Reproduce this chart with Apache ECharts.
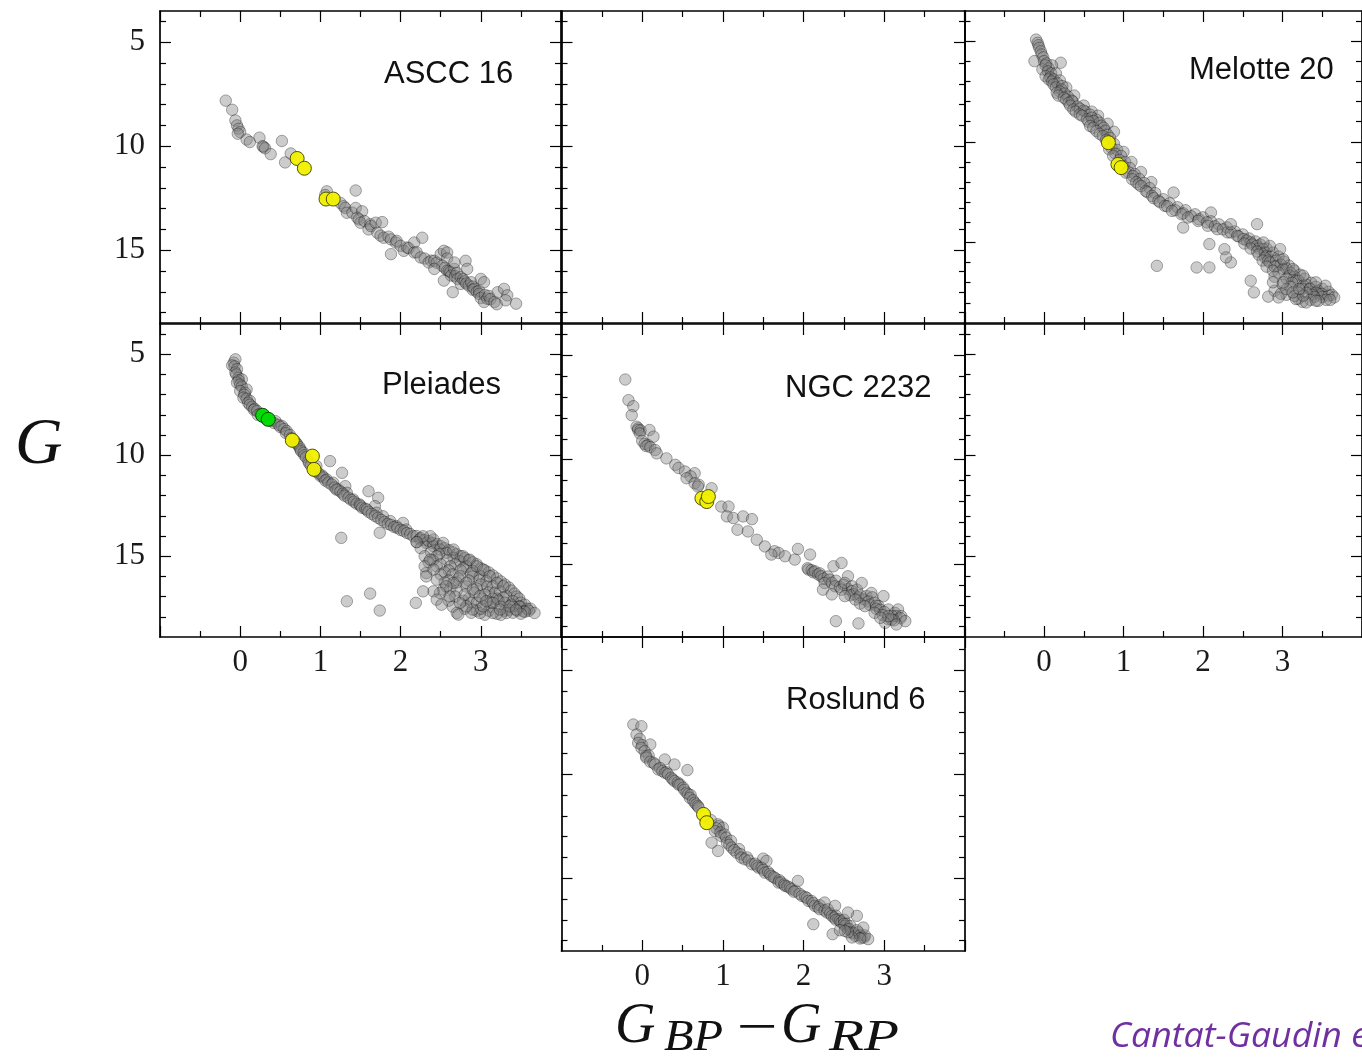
<!DOCTYPE html>
<html><head><meta charset="utf-8">
<script src="https://cdn.jsdelivr.net/npm/echarts@6/dist/echarts.min.js"></script>
<style>html,body{margin:0;padding:0;background:#fff}#c{width:1362px;height:1061px}</style>
</head><body><div id="c"></div>
<script>
// ---------- tick labels ----------
const xTickLabels = [0, 1, 2, 3];
const yTickLabels = [5, 10, 15];
const yMinorTicks = [4, 6, 7, 8, 9, 11, 12, 13, 14, 16, 17, 18];
const clusterNames = ['ASCC 16', 'Melotte 20', 'Pleiades', 'NGC 2232', 'Roslund 6'];

// ---------- ASCC 16 ----------
const ascc16Members = [[-0.18,7.81],[-0.10,8.25],[-0.06,8.76],[-0.04,9.00],[-0.02,9.16],[0.00,9.32],[-0.03,9.40],[0.08,9.68],[0.12,9.80],[0.24,9.59],[0.29,10.03],[0.28,10.00],[0.31,10.10],[0.38,10.38],[0.52,9.75],[0.56,10.78],[0.63,10.35],[1.08,12.17],[1.06,12.35],[1.44,12.13],[1.25,12.73],[1.29,12.89],[1.31,12.97],[1.33,13.20],[1.40,13.20],[1.44,12.97],[1.52,13.13],[1.46,13.44],[1.48,13.52],[1.50,13.68],[1.55,13.60],[1.62,13.75],[1.60,14.00],[1.63,13.84],[1.69,13.68],[1.77,13.65],[1.71,14.16],[1.75,14.30],[1.79,14.40],[1.85,14.35],[1.88,14.48],[1.94,14.63],[1.95,14.55],[1.88,15.19],[2.00,14.79],[2.04,15.03],[2.08,14.87],[2.10,14.90],[2.17,14.63],[2.17,15.11],[2.20,15.10],[2.27,14.40],[2.25,15.35],[2.30,15.40],[2.38,15.50],[2.35,15.59],[2.42,15.51],[2.45,15.60],[2.50,15.19],[2.54,15.03],[2.58,15.11],[2.58,15.40],[2.52,15.75],[2.55,15.85],[2.42,15.90],[2.58,15.98],[2.60,16.00],[2.62,16.05],[2.63,16.22],[2.67,15.90],[2.67,15.59],[2.68,16.25],[2.70,16.10],[2.71,16.38],[2.75,16.30],[2.78,16.40],[2.54,16.46],[2.65,17.02],[2.75,16.62],[2.80,16.50],[2.82,16.60],[2.81,15.51],[2.83,15.90],[2.85,16.70],[2.88,16.54],[2.90,16.75],[2.90,16.90],[2.92,16.86],[2.95,17.00],[2.98,16.95],[3.00,16.38],[3.04,16.54],[2.98,17.10],[3.00,17.30],[3.05,17.15],[3.04,17.49],[3.08,17.33],[3.10,17.20],[3.12,17.35],[3.17,17.49],[3.20,17.60],[3.21,17.02],[3.29,16.86],[3.33,17.17],[3.31,17.41],[3.44,17.57]];
const ascc16Highlight = [[0.71,10.59],[0.80,11.06],[1.07,12.54],[1.16,12.54]];

// ---------- Melotte 20 ----------
const melotte20Members = [[-0.10,4.92],[-0.08,5.08],[-0.07,5.20],[-0.06,5.33],[-0.04,5.50],[-0.03,5.66],[-0.01,5.80],[-0.12,5.99],[0.21,6.07],[0.00,5.99],[0.03,6.10],[0.10,6.20],[-0.02,6.40],[0.06,6.35],[0.02,6.20],[0.05,6.50],[0.09,6.60],[0.15,6.60],[0.02,6.74],[0.08,6.80],[0.06,6.90],[0.12,6.90],[0.20,6.95],[0.10,7.00],[0.17,7.10],[0.12,7.15],[0.15,7.30],[0.28,7.30],[0.23,7.23],[0.22,7.40],[0.20,7.50],[0.16,7.56],[0.26,7.60],[0.18,7.70],[0.38,7.70],[0.30,7.75],[0.25,7.81],[0.28,7.90],[0.35,7.95],[0.36,8.00],[0.31,8.06],[0.33,8.20],[0.50,8.20],[0.42,8.25],[0.37,8.39],[0.45,8.35],[0.40,8.50],[0.52,8.50],[0.50,8.45],[0.60,8.50],[0.45,8.64],[0.58,8.65],[0.48,8.70],[0.68,8.70],[0.54,8.88],[0.66,8.90],[0.60,8.80],[0.62,8.97],[0.56,9.00],[0.70,9.05],[0.80,9.10],[0.72,9.20],[0.58,9.21],[0.62,9.30],[0.75,9.30],[0.77,9.45],[0.66,9.46],[0.88,9.50],[0.70,9.60],[0.80,9.65],[0.74,9.71],[0.83,9.80],[0.78,9.90],[0.88,10.10],[0.85,10.30],[0.82,10.37],[0.92,10.40],[1.00,10.50],[0.90,10.60],[0.87,10.70],[0.97,10.70],[0.95,10.90],[1.02,11.00],[1.10,11.00],[1.00,11.20],[1.08,11.30],[1.06,11.50],[1.03,11.53],[1.22,11.50],[1.14,11.60],[1.12,11.70],[1.20,11.85],[1.11,11.86],[1.16,12.00],[1.35,12.00],[1.26,12.05],[1.19,12.11],[1.22,12.20],[1.33,12.30],[1.28,12.44],[1.30,12.50],[1.63,12.52],[1.40,12.55],[1.36,12.69],[1.38,12.80],[1.50,12.85],[1.44,12.93],[1.46,13.00],[1.58,13.05],[1.52,13.18],[1.55,13.20],[1.68,13.25],[1.65,13.40],[1.78,13.40],[1.61,13.43],[1.75,13.55],[1.73,13.60],[1.90,13.60],[1.85,13.70],[2.00,13.75],[1.81,13.76],[1.75,14.26],[2.10,13.51],[1.95,13.85],[1.94,13.93],[2.10,13.95],[2.05,14.00],[2.20,14.10],[2.06,14.17],[2.15,14.20],[2.30,14.25],[2.08,15.08],[2.18,14.34],[2.25,14.35],[2.40,14.45],[2.31,14.50],[2.35,14.50],[2.35,14.09],[2.50,14.60],[2.43,14.67],[2.45,14.70],[2.58,14.80],[2.51,14.83],[2.55,14.90],[2.66,14.95],[2.68,14.09],[2.60,15.00],[2.52,15.05],[2.72,15.10],[2.62,15.10],[2.68,15.17],[2.70,15.30],[2.60,15.30],[2.80,15.30],[2.76,15.33],[2.68,15.45],[2.78,15.50],[2.88,15.50],[2.70,15.60],[2.80,15.66],[2.85,15.70],[2.95,15.70],[2.78,15.75],[2.75,15.90],[2.82,15.90],[2.84,15.99],[2.92,15.90],[3.02,15.95],[2.93,16.16],[3.08,16.15],[2.98,16.10],[2.80,16.20],[2.90,16.20],[3.01,16.32],[3.05,16.30],[3.15,16.40],[2.88,16.40],[2.95,16.50],[3.10,16.50],[3.22,16.60],[3.09,16.65],[3.15,16.70],[2.90,16.70],[3.05,16.80],[3.28,16.80],[3.17,16.90],[3.20,16.90],[3.12,17.00],[3.36,17.00],[3.26,17.15],[3.30,17.10],[3.00,17.10],[3.10,17.20],[3.42,17.20],[3.25,17.30],[3.34,17.31],[3.35,17.30],[3.50,17.30],[3.45,17.40],[2.90,17.40],[3.58,17.45],[3.42,17.48],[3.48,17.55],[3.50,17.56],[3.05,17.60],[3.38,17.60],[3.62,17.60],[3.50,17.70],[3.58,17.64],[3.65,17.73],[2.98,17.55],[3.55,17.85],[3.60,17.85],[3.40,17.70],[3.30,17.50],[3.20,17.50],[3.35,17.85],[3.45,17.90],[3.20,17.80],[3.25,17.95],[3.15,17.65],[3.54,17.15],[3.42,16.98],[3.26,16.65],[3.13,16.32],[3.01,15.83],[2.97,15.33],[2.84,15.17],[2.76,15.00],[2.27,15.33],[2.35,15.99],[2.29,15.74],[1.42,16.16],[1.92,16.24],[2.08,16.24],[2.60,16.90],[2.64,17.48],[2.82,17.69],[2.95,17.73],[3.17,17.81],[3.30,17.98],[3.42,17.89],[3.26,17.64],[3.05,17.31],[3.13,17.48],[2.88,16.98],[3.01,16.98],[3.21,17.31]];
const melotte20Highlight = [[0.81,10.04],[0.93,11.12],[0.97,11.28]];

// ---------- Pleiades ----------
const pleiadesMembers = [[-0.08,5.41],[-0.06,5.25],[-0.10,5.55],[-0.07,5.60],[-0.04,5.74],[-0.06,5.90],[-0.05,6.00],[-0.02,6.16],[0.02,6.24],[-0.02,6.30],[-0.04,6.40],[0.00,6.50],[0.02,6.60],[0.08,6.74],[0.00,6.82],[0.06,6.90],[0.05,7.00],[0.04,7.15],[0.08,7.20],[0.12,7.30],[0.10,7.40],[0.12,7.50],[0.15,7.60],[0.18,7.70],[0.17,7.75],[0.21,7.81],[0.25,7.95],[0.22,8.00],[0.30,8.10],[0.33,8.25],[0.38,8.30],[0.44,8.31],[0.42,8.40],[0.48,8.50],[0.52,8.55],[0.50,8.60],[0.55,8.70],[0.58,8.80],[0.57,8.90],[0.62,9.00],[0.64,9.15],[0.68,9.30],[0.70,9.40],[0.71,9.46],[0.74,9.60],[0.75,9.71],[0.76,9.80],[0.79,9.88],[0.80,10.00],[0.82,10.10],[0.85,10.29],[0.86,10.40],[0.88,10.50],[0.95,10.54],[0.92,10.70],[0.94,10.80],[0.98,10.90],[1.00,11.03],[1.02,11.00],[1.04,11.10],[1.08,11.20],[1.06,11.25],[1.12,10.29],[1.27,10.87],[1.10,11.35],[1.16,11.36],[1.14,11.45],[1.31,11.53],[1.18,11.60],[1.22,11.69],[1.20,11.70],[1.25,11.80],[1.33,11.86],[1.28,11.90],[1.30,12.00],[1.35,12.10],[1.41,12.19],[1.38,12.20],[1.42,12.30],[1.45,12.40],[1.49,12.44],[1.50,12.50],[1.60,11.78],[1.72,12.11],[1.68,12.52],[1.52,12.60],[1.56,12.65],[1.58,12.69],[1.60,12.80],[1.70,12.85],[1.64,12.90],[1.68,13.00],[1.78,13.02],[1.72,13.10],[1.76,13.20],[1.87,13.26],[1.80,13.30],[1.84,13.40],[1.88,13.45],[1.95,13.51],[2.03,13.35],[1.92,13.55],[1.96,13.60],[2.07,13.68],[2.00,13.70],[2.04,13.75],[1.74,13.84],[2.08,13.85],[2.12,13.90],[1.26,14.09],[2.16,14.01],[2.20,14.00],[2.25,14.10],[2.24,14.17],[2.30,14.20],[2.20,14.30],[2.35,14.25],[2.32,14.34],[2.40,14.35],[2.45,14.40],[2.41,14.50],[2.50,14.50],[2.55,14.60],[2.25,14.60],[2.49,14.67],[2.60,14.70],[2.65,14.80],[2.38,14.80],[2.57,14.83],[2.48,14.90],[2.70,14.90],[2.45,15.00],[2.75,15.00],[2.30,15.00],[2.66,15.08],[2.80,15.10],[2.40,15.20],[2.58,15.20],[2.85,15.20],[2.74,15.25],[2.35,15.30],[2.90,15.30],[2.50,15.40],[2.68,15.40],[2.95,15.40],[2.82,15.50],[2.62,15.50],[2.45,15.50],[3.00,15.60],[2.78,15.60],[2.75,15.70],[2.60,15.70],[3.05,15.70],[2.90,15.74],[2.55,15.80],[3.10,15.80],[2.88,15.85],[2.65,15.90],[2.50,15.90],[3.15,15.95],[2.99,15.99],[2.90,16.00],[3.20,16.10],[2.72,16.10],[2.98,16.20],[2.85,16.20],[2.60,16.20],[3.07,16.24],[3.25,16.25],[2.70,16.30],[2.55,16.30],[3.00,16.40],[3.30,16.40],[3.08,16.50],[2.82,16.50],[3.15,16.49],[3.35,16.55],[2.95,16.60],[2.62,16.60],[3.24,16.74],[3.38,16.70],[2.70,16.70],[3.10,16.80],[3.18,16.80],[2.92,16.80],[3.42,16.85],[3.05,16.90],[3.32,16.98],[2.68,17.00],[3.45,17.00],[3.28,17.05],[2.85,17.10],[3.20,17.10],[3.02,17.10],[3.48,17.10],[3.15,17.10],[3.22,17.20],[2.78,17.20],[2.60,17.20],[3.40,17.23],[3.30,17.30],[3.50,17.30],[3.12,17.30],[2.88,17.30],[2.95,17.30],[3.38,17.40],[3.55,17.40],[3.49,17.48],[3.48,17.50],[3.40,17.50],[3.25,17.50],[3.12,17.50],[2.65,17.50],[3.58,17.60],[3.62,17.60],[2.80,17.60],[3.53,17.73],[3.60,17.70],[3.45,17.70],[3.30,17.70],[3.10,17.70],[2.95,17.70],[3.67,17.81],[3.55,17.75],[3.35,17.65],[3.50,17.85],[3.40,17.80],[3.32,17.81],[3.25,17.90],[3.20,17.85],[3.15,17.81],[3.05,17.90],[2.99,17.81],[2.88,17.80],[3.00,17.60],[2.90,17.64],[3.03,17.48],[3.15,17.31],[3.24,17.64],[3.36,17.48],[3.44,17.64],[2.82,17.48],[2.74,17.31],[2.70,17.81],[2.61,16.98],[2.80,16.90],[2.53,16.65],[2.45,16.16],[2.32,15.83],[2.30,15.50],[2.37,15.17],[2.41,14.17],[2.37,14.01],[2.28,14.01],[2.53,14.34],[2.66,14.67],[2.78,15.00],[2.86,15.17],[2.95,15.50],[3.03,15.66],[3.11,15.99],[3.20,16.32],[3.28,16.49],[2.74,15.99],[2.82,16.32],[2.90,16.65],[2.99,16.98],[3.07,17.23],[2.66,16.32],[2.57,16.49],[2.49,16.82],[2.41,16.74],[2.28,16.74],[2.19,17.31],[2.45,17.15],[2.51,17.40],[2.72,17.89],[1.33,17.23],[1.62,16.85],[1.74,17.69],[2.41,15.66],[2.32,16.00],[2.20,14.30]];
const pleiadesHighlight = [[0.65,9.26],[0.90,10.04],[0.92,10.70]];
const pleiadesSpecial = [[0.28,8.02],[0.35,8.22]];

// ---------- NGC 2232 ----------
const ngc2232Members = [[-0.21,6.16],[-0.17,7.15],[-0.11,7.44],[-0.13,7.87],[-0.07,8.42],[-0.05,8.50],[-0.05,8.58],[-0.02,8.60],[-0.03,8.74],[0.09,8.58],[0.14,8.90],[0.00,9.10],[0.03,9.25],[0.07,9.30],[0.05,9.35],[0.10,9.40],[0.16,9.54],[0.18,9.70],[0.30,9.94],[0.41,10.25],[0.45,10.40],[0.53,10.57],[0.65,10.65],[0.60,10.80],[0.55,10.89],[0.65,11.13],[0.70,11.20],[0.69,11.29],[0.86,11.37],[0.98,12.25],[1.07,12.25],[1.05,12.72],[1.13,12.80],[1.25,12.72],[1.36,12.85],[1.18,13.36],[1.31,13.44],[1.42,13.84],[1.52,14.16],[1.64,14.39],[1.69,14.47],[1.77,14.63],[1.89,14.79],[1.60,14.55],[1.93,14.28],[2.08,14.55],[2.05,15.20],[2.06,15.27],[2.10,15.30],[2.12,15.40],[2.14,15.35],[2.18,15.50],[2.20,15.45],[2.22,15.59],[2.25,15.70],[2.30,15.60],[2.32,15.75],[2.26,15.91],[2.35,15.90],[2.40,15.80],[2.37,15.11],[2.47,14.95],[2.55,15.59],[2.39,16.07],[2.45,16.10],[2.50,16.00],[2.55,16.20],[2.47,16.23],[2.51,15.91],[2.60,16.07],[2.60,16.30],[2.62,16.45],[2.58,16.50],[2.66,16.23],[2.68,16.60],[2.72,15.91],[2.70,16.50],[2.75,16.70],[2.78,16.54],[2.84,16.39],[2.85,16.60],[2.80,16.80],[2.82,16.95],[2.88,16.86],[2.99,16.54],[2.93,17.02],[2.90,17.00],[2.90,17.15],[2.70,16.90],[2.95,17.20],[3.05,17.18],[3.00,17.30],[2.98,17.45],[3.13,17.34],[3.17,17.18],[3.15,17.50],[3.10,17.50],[3.21,17.50],[3.20,17.60],[3.05,17.65],[3.12,17.70],[3.26,17.74],[3.09,17.66],[3.01,17.82],[3.05,17.50],[2.68,17.85],[2.40,17.74],[2.24,16.23],[2.35,16.46],[2.51,16.54],[2.64,16.70],[2.76,17.02],[2.88,17.34],[2.95,17.58],[3.15,17.90]];
const ngc2232Highlight = [[0.74,11.85],[0.80,12.01],[0.82,11.77]];

// ---------- Roslund 6 ----------
const roslund6Members = [[-0.11,7.61],[-0.01,7.69],[-0.07,8.09],[-0.03,8.30],[-0.05,8.49],[0.00,8.60],[0.10,8.57],[-0.01,8.73],[0.03,8.89],[0.08,9.10],[0.05,9.13],[0.05,9.20],[0.10,9.40],[0.14,9.45],[0.16,9.53],[0.28,9.29],[0.40,9.53],[0.56,9.80],[0.22,9.70],[0.20,9.77],[0.25,9.85],[0.30,9.90],[0.28,9.93],[0.32,10.00],[0.36,10.17],[0.38,10.25],[0.40,10.33],[0.44,10.40],[0.47,10.49],[0.45,10.50],[0.51,10.65],[0.52,10.75],[0.55,10.89],[0.57,10.95],[0.60,11.00],[0.59,11.13],[0.63,11.25],[0.65,11.37],[0.67,11.45],[0.69,11.53],[0.70,11.60],[0.85,12.20],[0.94,12.41],[0.95,12.50],[1.00,12.57],[0.92,12.60],[0.86,13.29],[0.94,13.69],[0.90,12.73],[0.97,12.80],[0.98,12.97],[1.02,12.90],[1.04,13.05],[1.05,13.29],[1.10,13.20],[1.08,13.40],[1.11,13.53],[1.20,13.60],[1.14,13.65],[1.17,13.77],[1.22,13.85],[1.23,14.01],[1.30,14.00],[1.27,14.09],[1.32,14.15],[1.50,14.06],[1.54,14.17],[1.36,14.33],[1.40,14.30],[1.42,14.40],[1.44,14.49],[1.48,14.50],[1.50,14.60],[1.52,14.73],[1.56,14.70],[1.58,14.80],[1.60,14.89],[1.65,15.00],[1.63,14.95],[1.70,15.10],[1.69,15.21],[1.72,15.20],[1.76,15.30],[1.77,15.37],[1.80,15.40],[1.83,15.45],[1.85,15.53],[1.90,15.60],[1.88,15.65],[1.95,15.75],[1.93,15.13],[1.98,15.85],[2.02,15.90],[2.04,15.95],[2.06,16.09],[2.10,16.10],[2.12,16.20],[2.14,16.33],[2.20,16.30],[2.18,16.40],[2.20,16.49],[2.26,16.17],[2.26,16.55],[2.29,16.65],[2.30,16.50],[2.33,16.70],[2.35,16.81],[2.39,16.33],[2.40,16.80],[2.38,16.90],[2.43,16.97],[2.40,17.00],[2.45,17.05],[2.47,17.13],[2.50,17.00],[2.53,17.20],[2.51,17.29],[2.50,17.20],[2.55,17.45],[2.57,17.45],[2.58,17.30],[2.60,17.61],[2.62,17.65],[2.64,17.77],[2.68,17.60],[2.66,17.50],[2.70,17.75],[2.72,17.85],[2.75,17.85],[2.76,17.75],[2.80,17.93],[2.70,17.90],[2.60,17.85],[2.55,17.60],[2.66,16.81],[2.55,16.65],[2.12,17.21],[2.36,17.69],[2.45,17.50],[2.74,17.37],[2.51,17.53]];
const roslund6Highlight = [[0.76,11.93],[0.80,12.33]];

// ---------- layout (code, not data) ----------
const panels = [
  {left:160,   top:11,  width:401,   height:312, yMin:3.5, yMax:18.5, yLab:true,  xLab:false, mem:ascc16Members,    hi:ascc16Highlight,    name:clusterNames[0], tx:384,  ty:74},
  {left:561.5, top:11,  width:403.5, height:312, yMin:3.5, yMax:18.5, yLab:false, xLab:false},
  {left:964.5, top:11,  width:404,   height:312, yMin:3.5, yMax:19,   yLab:false, xLab:false, mem:melotte20Members, hi:melotte20Highlight, name:clusterNames[1], tx:1189, ty:70.5},
  {left:160,   top:324, width:401,   height:313, yMin:3.5, yMax:19,   yLab:true,  xLab:true,  mem:pleiadesMembers,  hi:pleiadesHighlight,  sp:pleiadesSpecial, name:clusterNames[2], tx:382, ty:385},
  {left:561.5, top:324, width:403.5, height:313, yMin:3.5, yMax:18.5, yLab:false, xLab:false, mem:ngc2232Members,   hi:ngc2232Highlight,   name:clusterNames[3], tx:785,  ty:388},
  {left:964.5, top:324, width:404,   height:313, yMin:3.5, yMax:19,   yLab:false, xLab:true},
  {left:561.5, top:637, width:403.5, height:314, yMin:3.4, yMax:18.5, yLab:false, xLab:true,  mem:roslund6Members,  hi:roslund6Highlight,  name:clusterNames[4], tx:786,  ty:700}
];

const FRAME = {color:'#000', width:1.7};
const TICK = {color:'#000', width:1.2};
const numFont = {fontFamily:'"Liberation Serif", "DejaVu Serif", serif', fontSize:31, color:'#1a1a1a'};

const grid = [], xAxis = [], yAxis = [], series = [], graphic = [];
panels.forEach((p, i) => {
  grid.push({left:p.left, top:p.top, width:p.width, height:p.height, containLabel:false});
  ['bottom','top'].forEach(pos => {
    xAxis.push({
      gridIndex:i, type:'value', position:pos, min:-1, max:4, interval:1,
      axisLine:{show:true, onZero:false, lineStyle:FRAME},
      axisTick:{show:true, inside:true, length:11, lineStyle:TICK},
      minorTick:{show:true, splitNumber:2, length:6, lineStyle:TICK},
      splitLine:{show:false}, minorSplitLine:{show:false},
      axisLabel: (pos === 'bottom' && p.xLab) ? Object.assign({show:true, customValues:xTickLabels, margin:10}, numFont) : {show:false}
    });
  });
  ['left','right'].forEach(pos => {
    yAxis.push({
      gridIndex:i, type:'value', position:pos, inverse:true, min:p.yMin, max:p.yMax,
      axisLine:{show:true, onZero:false, lineStyle:FRAME},
      axisTick:{show:true, inside:true, length:11, customValues:yTickLabels, lineStyle:TICK},
      splitLine:{show:false},
      axisLabel: (pos === 'left' && p.yLab) ? Object.assign({show:true, customValues:yTickLabels, margin:15}, numFont) : {show:false}
    });
    yAxis.push({
      gridIndex:i, type:'value', position:pos, inverse:true, min:p.yMin, max:p.yMax,
      axisLine:{show:false, onZero:false},
      axisTick:{show:true, inside:true, length:6, customValues:yMinorTicks, lineStyle:TICK},
      splitLine:{show:false}, axisLabel:{show:false}
    });
  });
  const xi = 2 * i, yi = 4 * i;
  if (p.mem) {
    series.push({type:'scatter', xAxisIndex:xi, yAxisIndex:yi, data:p.mem, symbolSize:11.5, silent:true,
      itemStyle:{color:'#808080', borderColor:'#000', borderWidth:0.8, opacity:0.4}});
    series.push({type:'scatter', xAxisIndex:xi, yAxisIndex:yi, data:p.hi, symbolSize:14, silent:true, z:3,
      itemStyle:{color:'#f0f000', borderColor:'#4a4a00', borderWidth:1, opacity:0.95}});
    if (p.sp) series.push({type:'scatter', xAxisIndex:xi, yAxisIndex:yi, data:p.sp, symbolSize:14, silent:true, z:4,
      itemStyle:{color:'#00dc00', borderColor:'#004400', borderWidth:1, opacity:0.95}});
    graphic.push({type:'text', x:p.tx, y:p.ty, silent:true, style:{text:p.name, fontFamily:'"Liberation Sans", Arial, sans-serif', fontSize:31, fill:'#111', align:'left', verticalAlign:'middle'}});
  }
});

const serif = '"Liberation Serif", "DejaVu Serif", serif';
graphic.push(
  {type:'text', x:15, y:446, silent:true, style:{text:'G', fontFamily:serif, fontStyle:'italic', fontSize:66, fill:'#111', align:'left', verticalAlign:'middle'}},
  {type:'text', x:615, y:1027, silent:true, style:{text:'G', fontFamily:serif, fontStyle:'italic', fontSize:56, fill:'#111', align:'left', verticalAlign:'middle'}},
  {type:'text', x:664, y:1038, scaleX:1.1, silent:true, style:{text:'BP', fontFamily:serif, fontStyle:'italic', fontSize:44, fill:'#111', align:'left', verticalAlign:'middle'}},
  {type:'text', x:757, y:1030, scaleX:1.3, silent:true, style:{text:'\u2212', fontFamily:serif, fontSize:56, fill:'#111', align:'center', verticalAlign:'middle'}},
  {type:'text', x:781, y:1027, silent:true, style:{text:'G', fontFamily:serif, fontStyle:'italic', fontSize:56, fill:'#111', align:'left', verticalAlign:'middle'}},
  {type:'text', x:829, y:1038, scaleX:1.3, silent:true, style:{text:'RP', fontFamily:serif, fontStyle:'italic', fontSize:44, fill:'#111', align:'left', verticalAlign:'middle'}},
  {type:'text', x:1110, y:1037, scaleX:1.05, silent:true, style:{text:'Cantat-Gaudin et al.', fontFamily:'"Open Sans", "Noto Sans", sans-serif', fontStyle:'italic', fontSize:34, fill:'#7030a0', align:'left', verticalAlign:'middle'}}
);

const chart = echarts.init(document.getElementById('c'), null, {renderer:'canvas'});
chart.setOption({animation:false, backgroundColor:'#fff', grid, xAxis, yAxis, series, graphic});
</script></body></html>
